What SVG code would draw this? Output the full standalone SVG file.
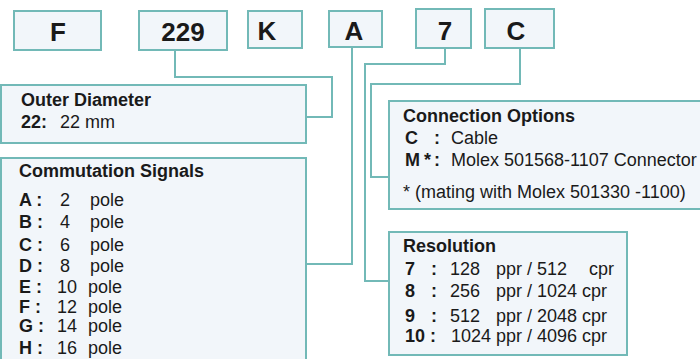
<svg xmlns="http://www.w3.org/2000/svg" width="700" height="359" viewBox="0 0 700 359">
<style>
.box{fill:#f2f6fa;stroke:#72b9b7;stroke-width:2}
.con{fill:none;stroke:#72b9b7;stroke-width:2}
text{font-family:"Liberation Sans",Arial,sans-serif;fill:#1a1a1a}
.big{font-size:26px;font-weight:bold;text-anchor:middle}
.h{font-size:18px;font-weight:bold}
.t{font-size:18px}
.b{font-weight:bold}
</style>
<rect width="700" height="359" fill="#ffffff"/>
<g id="connectors">
<polyline class="con" points="175,50 175,77 332,77 332,117 306,117"/>
<polyline class="con" points="352,47 352,264 306,264"/>
<polyline class="con" points="445,48 445,64 365,64 365,281 389,281"/>
<polyline class="con" points="520,48 520,84 371,84 371,177 389,177"/>
</g>
<g id="code-F"><rect class="box" x="14" y="11" width="87" height="39"/><text class="big" x="58" y="41">F</text></g>
<g id="code-229"><rect class="box" x="139" y="11" width="88" height="39"/><text class="big" x="183" y="41">229</text></g>
<g id="code-K"><rect class="box" x="248" y="11" width="54" height="37"/><text class="big" x="267" y="40">K</text></g>
<g id="code-A"><rect class="box" x="329" y="11" width="53" height="36"/><text class="big" x="354" y="40">A</text></g>
<g id="code-7"><rect class="box" x="416" y="9" width="55" height="39"/><text class="big" x="445" y="40">7</text></g>
<g id="code-C"><rect class="box" x="485" y="9" width="69" height="39"/><text class="big" x="516" y="40">C</text></g>
<g id="outer-diameter">
<rect class="box" x="1" y="85" width="305" height="58"/>
<text class="h" x="21" y="106">Outer Diameter</text>
<text class="t b" x="21" y="128">22:</text>
<text class="t" x="60" y="128">22 mm</text>
</g>
<g id="commutation">
<rect class="box" x="1" y="158" width="305" height="210"/>
<text class="h" x="19" y="177">Commutation Signals</text>
<text class="t b" x="19" y="205.5">A :</text><text class="t" x="60" y="205.5">2</text><text class="t" x="90" y="205.5">pole</text>
<text class="t b" x="19" y="227.5">B :</text><text class="t" x="60" y="227.5">4</text><text class="t" x="90" y="227.5">pole</text>
<text class="t b" x="19" y="250.5">C :</text><text class="t" x="60" y="250.5">6</text><text class="t" x="90" y="250.5">pole</text>
<text class="t b" x="19" y="271.5">D :</text><text class="t" x="60" y="271.5">8</text><text class="t" x="90" y="271.5">pole</text>
<text class="t b" x="19" y="293">E :</text><text class="t" x="57" y="293">10</text><text class="t" x="88" y="293">pole</text>
<text class="t b" x="19" y="313">F :</text><text class="t" x="57" y="313">12</text><text class="t" x="88" y="313">pole</text>
<text class="t b" x="19" y="331.5">G :</text><text class="t" x="57" y="331.5">14</text><text class="t" x="88" y="331.5">pole</text>
<text class="t b" x="19" y="354">H :</text><text class="t" x="57" y="354">16</text><text class="t" x="88" y="354">pole</text>
</g>
<g id="connection-options">
<rect class="box" x="389" y="101" width="320" height="108"/>
<text class="h" x="403" y="121.5">Connection Options</text>
<text class="t b" x="405" y="144">C</text><text class="t b" x="434" y="144">:</text><text class="t" x="451" y="144">Cable</text>
<text class="t b" x="405" y="166">M</text><text class="t b" x="424" y="166">*</text><text class="t b" x="434" y="166">:</text><text class="t" x="451" y="166">Molex 501568-1107 Connector</text>
<text class="t" x="403" y="198">* (mating with Molex 501330 -1100)</text>
</g>
<g id="resolution">
<rect class="box" x="389" y="232" width="238" height="123"/>
<text class="h" x="403" y="252">Resolution</text>
<text class="t b" x="405" y="275">7</text><text class="t b" x="431" y="275">:</text><text class="t" x="450" y="275">128</text><text class="t" x="496" y="275">ppr / 512</text><text class="t" x="589" y="275">cpr</text>
<text class="t b" x="405" y="297">8</text><text class="t b" x="431" y="297">:</text><text class="t" x="450" y="297">256</text><text class="t" x="496" y="297">ppr / 1024 cpr</text>
<text class="t b" x="405" y="321.5">9</text><text class="t b" x="431" y="321.5">:</text><text class="t" x="450" y="321.5">512</text><text class="t" x="496" y="321.5">ppr / 2048 cpr</text>
<text class="t b" x="405" y="341.5">10 :</text><text class="t" x="451" y="341.5">1024 ppr / 4096 cpr</text>
</g>
</svg>
